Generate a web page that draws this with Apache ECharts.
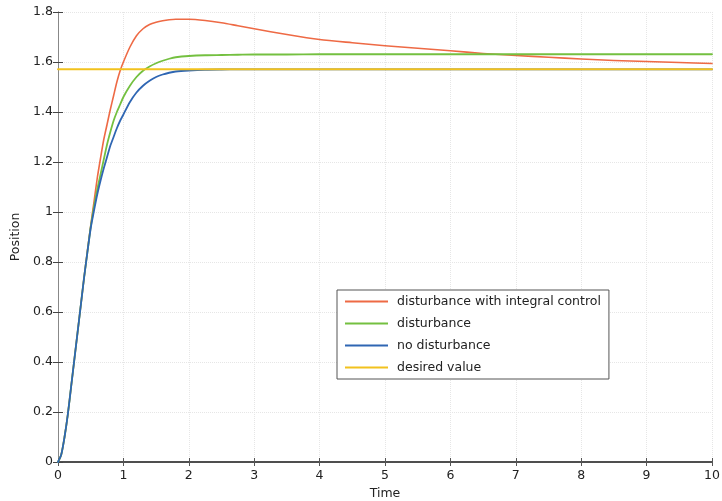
<!DOCTYPE html>
<html>
<head>
<meta charset="utf-8">
<script src="https://cdn.jsdelivr.net/npm/echarts@6/dist/echarts.min.js"></script>
<style>
  html, body { margin: 0; padding: 0; background: #ffffff; }
  #chart { width: 722px; height: 501px; }
</style>
</head>
<body>
<div id="chart"></div>
<script>
// Sample times (s) shared by the three simulated responses
var time = [0, 0.05, 0.1, 0.15, 0.2, 0.25, 0.3, 0.35, 0.4, 0.45,
            0.5, 0.55, 0.6, 0.65, 0.7, 0.75, 0.8, 0.85, 0.9, 0.95,
            1.0, 1.1, 1.2, 1.3, 1.4, 1.5, 1.6, 1.7, 1.8,
            2.0, 2.25, 2.5, 2.75, 3.0,
            3.5, 4.0, 4.5, 5.0, 5.5, 6.0, 6.5, 7.0, 7.5, 8.0, 8.5, 9.0, 9.5, 10];

var integralControl = [0, 0.03, 0.10, 0.19, 0.30, 0.41, 0.52, 0.63, 0.74, 0.845,
                       0.945, 1.04, 1.135, 1.215, 1.29, 1.35, 1.41, 1.465, 1.52, 1.565,
                       1.60, 1.66, 1.705, 1.733, 1.75, 1.759, 1.765, 1.769, 1.771,
                       1.771, 1.766, 1.757, 1.745, 1.733,
                       1.710, 1.690, 1.677, 1.665, 1.655, 1.645, 1.634, 1.626, 1.619, 1.612, 1.606, 1.602, 1.598, 1.594];

var disturbance = [0, 0.03, 0.10, 0.19, 0.30, 0.41, 0.52, 0.63, 0.74, 0.84,
                   0.94, 1.02, 1.09, 1.15, 1.21, 1.27, 1.32, 1.365, 1.40, 1.43,
                   1.46, 1.505, 1.54, 1.565, 1.582, 1.595, 1.605, 1.613, 1.619,
                   1.624, 1.627, 1.628, 1.629, 1.630,
                   1.630, 1.631, 1.631, 1.631, 1.631, 1.631, 1.631, 1.631, 1.631, 1.631, 1.631, 1.631, 1.631, 1.631];

var noDisturbance = [0, 0.03, 0.10, 0.19, 0.30, 0.41, 0.52, 0.63, 0.74, 0.84,
                     0.935, 1.005, 1.07, 1.125, 1.175, 1.22, 1.265, 1.30, 1.335, 1.365,
                     1.39, 1.44, 1.478, 1.505, 1.525, 1.54, 1.55, 1.557, 1.562,
                     1.566, 1.569, 1.570, 1.5705, 1.5708,
                     1.5708, 1.5708, 1.5708, 1.5708, 1.5708, 1.5708, 1.5708, 1.5708, 1.5708, 1.5708, 1.5708, 1.5708, 1.5708, 1.5708];

var desiredTime = [0, 10];
var desiredValue = [1.5708, 1.5708];

var seriesNames = ['disturbance with integral control', 'disturbance', 'no disturbance', 'desired value'];
var seriesColors = ['#ee6a45', '#74c040', '#2f66b3', '#f2c21e'];

var xTicks = { min: 0, max: 10, interval: 1 };
var yTicks = { min: 0, max: 1.8, interval: 0.2 };

function pairs(xs, ys) {
  return xs.map(function (x, i) { return [x, ys[i]]; });
}

var font = 'DejaVu Sans, Verdana, sans-serif';
var fontSize = 12.5;

function lineSeries(idx, data, width) {
  return {
    name: seriesNames[idx],
    type: 'line',
    data: data,
    showSymbol: false,
    symbol: 'none',
    smooth: 0.25,
    z: 2 + idx,
    lineStyle: { color: seriesColors[idx], width: width, join: 'round', cap: 'round' },
    itemStyle: { color: seriesColors[idx] },
    animation: false
  };
}

var chart = echarts.init(document.getElementById('chart'), null, { renderer: 'canvas' });

chart.setOption({
  backgroundColor: '#ffffff',
  animation: false,
  grid: { left: 58, right: 10, top: 12, bottom: 39, containLabel: false, outerBoundsMode: 'none' },
  legend: {
    orient: 'vertical',
    left: 337,
    top: 290,
    data: seriesNames,
    icon: 'rect',
    itemWidth: 43,
    itemHeight: 2,
    itemGap: 7,
    padding: [4, 8, 4, 8],
    borderColor: '#555555',
    borderWidth: 1,
    backgroundColor: '#ffffff',
    textStyle: { fontFamily: font, fontSize: fontSize, color: '#222222', lineHeight: 15, padding: [0, 0, 0, 4] }
  },
  xAxis: [
    {
      type: 'value', position: 'bottom',
      min: xTicks.min, max: xTicks.max, interval: xTicks.interval,
      name: 'Time', nameLocation: 'middle', nameGap: 24,
      nameTextStyle: { fontFamily: font, fontSize: fontSize, color: '#222222' },
      axisLine: { show: true, lineStyle: { color: '#444444', width: 1.5 } },
      axisTick: { show: true, inside: true, length: 4, lineStyle: { color: '#555555' } },
      axisLabel: { fontFamily: font, fontSize: fontSize, color: '#222222', margin: 7 },
      splitLine: { show: true, lineStyle: { color: '#e6e6e6', type: 'dotted', width: 1 } }
    },
    {
      type: 'value', position: 'top',
      min: xTicks.min, max: xTicks.max, interval: xTicks.interval,
      axisLine: { show: true, lineStyle: { color: '#444444', width: 1.5 } },
      axisTick: { show: true, inside: true, length: 4, lineStyle: { color: '#555555' } },
      axisLabel: { show: false },
      splitLine: { show: false }
    }
  ],
  yAxis: [
    {
      type: 'value', position: 'left',
      min: yTicks.min, max: yTicks.max, interval: yTicks.interval,
      name: 'Position', nameLocation: 'middle', nameGap: 25, nameRotate: 90,
      nameTextStyle: { fontFamily: font, fontSize: fontSize, color: '#222222' },
      axisLine: { show: true, lineStyle: { color: '#aaaaaa', width: 1 } },
      axisTick: { show: true, inside: true, length: 5, lineStyle: { color: '#444444' } },
      axisLabel: { fontFamily: font, fontSize: fontSize, color: '#222222', margin: 5 },
      splitLine: { show: true, lineStyle: { color: '#e6e6e6', type: 'dotted', width: 1 } }
    },
    {
      type: 'value', position: 'right',
      min: yTicks.min, max: yTicks.max, interval: yTicks.interval,
      axisLine: { show: true, lineStyle: { color: '#888888', width: 1 } },
      axisTick: { show: true, inside: true, length: 5, lineStyle: { color: '#444444' } },
      axisLabel: { show: false },
      splitLine: { show: false }
    }
  ],
  series: [
    lineSeries(0, pairs(time, integralControl), 1.6),
    lineSeries(1, pairs(time, disturbance), 1.8),
    lineSeries(2, pairs(time, noDisturbance), 1.8),
    lineSeries(3, pairs(desiredTime, desiredValue), 2)
  ]
});
</script>
</body>
</html>
